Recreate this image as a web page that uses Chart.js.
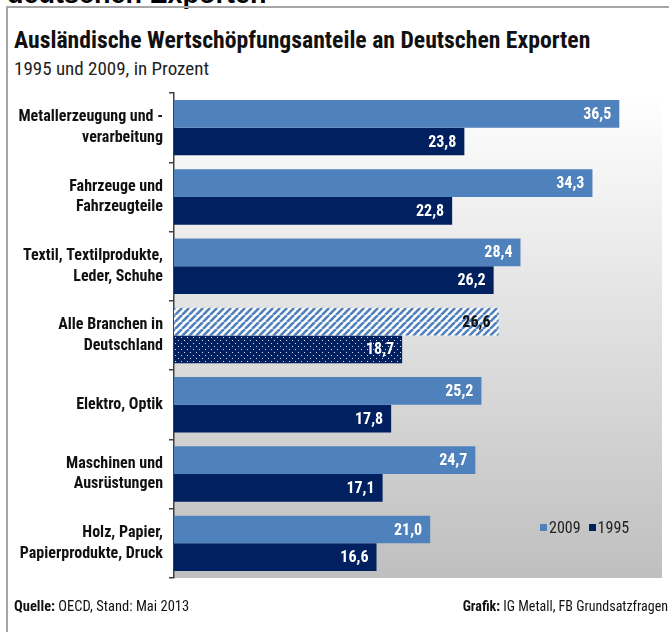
<!DOCTYPE html>
<html><head><meta charset="utf-8">
<script src="https://cdn.jsdelivr.net/npm/chart.js@4.4.1/dist/chart.umd.min.js"></script>
<style>
html,body{margin:0;padding:0;background:#fff;}
#wrap{position:relative;width:669px;height:632px;overflow:hidden;font-family:'Roboto Condensed','Liberation Sans Narrow',sans-serif;}
#frameTop{position:absolute;left:6px;top:6px;width:663px;height:0;border-top:2px solid #a6a6a6;}
#frameLeft{position:absolute;left:6px;top:6px;width:0;height:626px;border-left:2px solid #a6a6a6;}
#cut{position:absolute;left:7px;top:-21px;font:bold 27px 'Liberation Sans',Arial,sans-serif;color:#000;white-space:nowrap;}
#title{position:absolute;left:14px;top:26px;font-weight:bold;font-size:23.7px;color:#111;white-space:nowrap;}
#sub{position:absolute;left:14px;top:57px;font-size:19px;color:#222;white-space:nowrap;}
#chartbox{position:absolute;left:0;top:0;width:669px;height:632px;}
#legend{position:absolute;left:540px;top:518px;font-size:16px;color:#222;white-space:nowrap;}
#legend span.sw{display:inline-block;width:7px;height:7px;margin-right:2px;vertical-align:2px;}
#legend span.it{margin-right:8px;}
#foot1{position:absolute;left:14px;top:598px;font-size:14.5px;color:#111;white-space:nowrap;}
#foot2{position:absolute;right:1px;top:598px;font-size:14px;color:#111;white-space:nowrap;}
</style>
</head><body>
<div id="wrap">
  <div id="cut">deutschen Exporten</div>
  <div id="frameTop"></div>
  <div id="frameLeft"></div>
  <div id="title">Ausländische Wertschöpfungsanteile an Deutschen Exporten</div>
  <div id="sub">1995 und 2009, in Prozent</div>
  <div id="chartbox"><canvas id="c" width="669" height="632"></canvas></div>
  <div id="legend"><span class="it"><span class="sw" style="background:#4f81bd"></span>2009</span><span><span class="sw" style="background:#002060"></span>1995</span></div>
  <div id="foot1"><b>Quelle:</b> OECD, Stand: Mai 2013</div>
  <div id="foot2"><b>Grafik:</b> IG Metall, FB Grundsatzfragen</div>
</div>
<script>
const categories = [
  ["Metallerzeugung und -", "verarbeitung"],
  ["Fahrzeuge und", "Fahrzeugteile"],
  ["Textil, Textilprodukte,", "Leder, Schuhe"],
  ["Alle Branchen in", "Deutschland"],
  ["Elektro, Optik"],
  ["Maschinen und", "Ausrüstungen"],
  ["Holz, Papier,", "Papierprodukte, Druck"]
];
const values2009 = [36.5, 34.3, 28.4, 26.6, 25.2, 24.7, 21.0];
const values1995 = [23.8, 22.8, 26.2, 18.7, 17.8, 17.1, 16.6];
const seriesNames = ["2009", "1995"];
const highlightIndex = 3;

const LIGHT = '#4f81bd', DARK = '#002060';
const FONT = "'Roboto Condensed','Liberation Sans Narrow',sans-serif";

function hatchPattern(){
  const s = 7, c = document.createElement('canvas'); c.width = s; c.height = s;
  const x = c.getContext('2d');
  x.fillStyle = '#ffffff'; x.fillRect(0,0,s,s);
  x.strokeStyle = LIGHT; x.lineWidth = 2.6;
  for (const o of [-s, 0, s]) { x.beginPath(); x.moveTo(o, s); x.lineTo(o + s, 0); x.stroke(); }
  return x.createPattern(c, 'repeat');
}
function dotPattern(){
  const s = 6, c = document.createElement('canvas'); c.width = s; c.height = s;
  const x = c.getContext('2d');
  x.fillStyle = DARK; x.fillRect(0,0,s,s);
  x.fillStyle = 'rgba(255,255,255,0.85)';
  x.fillRect(1,1,1,1); x.fillRect(4,4,1,1);
  return x.createPattern(c, 'repeat');
}
const hatch = hatchPattern(), dots = dotPattern();

const bgPlugin = {
  id: 'bg',
  beforeDraw(chart){
    const {ctx, chartArea:a} = chart;
    const g = ctx.createLinearGradient(0, a.top, 0, a.bottom);
    g.addColorStop(0, '#ffffff');
    g.addColorStop(1, '#bfbfbf');
    ctx.save(); ctx.fillStyle = g; ctx.fillRect(a.left, a.top, a.right - a.left, a.bottom - a.top); ctx.restore();
  }
};
const labelPlugin = {
  id: 'vlabels',
  afterDatasetsDraw(chart){
    const ctx = chart.ctx;
    ctx.save();
    ctx.font = "bold 16px " + FONT;
    ctx.textAlign = 'right'; ctx.textBaseline = 'middle';
    chart.data.datasets.forEach((ds, di) => {
      chart.getDatasetMeta(di).data.forEach((bar, i) => {
        const txt = ds.data[i].toFixed(1).replace('.', ',');
        ctx.fillStyle = (di === 0 && i === highlightIndex) ? '#111' : '#ffffff';
        ctx.fillText(txt, bar.x - 8, bar.y + 1);
      });
    });
    ctx.restore();
  }
};

new Chart(document.getElementById('c'), {
  type: 'bar',
  data: {
    labels: categories,
    datasets: [
      { label: seriesNames[0], data: values2009,
        backgroundColor: values2009.map((v,i) => i === highlightIndex ? hatch : LIGHT) },
      { label: seriesNames[1], data: values1995,
        backgroundColor: values1995.map((v,i) => i === highlightIndex ? dots : DARK) }
    ]
  },
  options: {
    indexAxis: 'y',
    responsive: false,
    animation: false,
    events: [],
    layout: { padding: { left: 0, right: 7, top: 93, bottom: 54 } },
    datasets: { bar: { categoryPercentage: 0.8, barPercentage: 1.0, borderWidth: 0 } },
    scales: {
      x: { display: false, min: 0, max: 40 },
      y: {
        afterFit(scale){ scale.width = 174; },
        grid: { drawOnChartArea: false, drawTicks: true, tickLength: 5, offset: true, color: '#404040', lineWidth: 1.5 },
        border: { display: true, color: '#404040', width: 1.5 },
        ticks: { color: '#111', padding: 6, font: { family: FONT, size: 16, weight: 'bold', lineHeight: 1.3 } }
      }
    },
    plugins: { legend: { display: false }, tooltip: { enabled: false } }
  },
  plugins: [bgPlugin, labelPlugin]
});
</script>
</body></html>
